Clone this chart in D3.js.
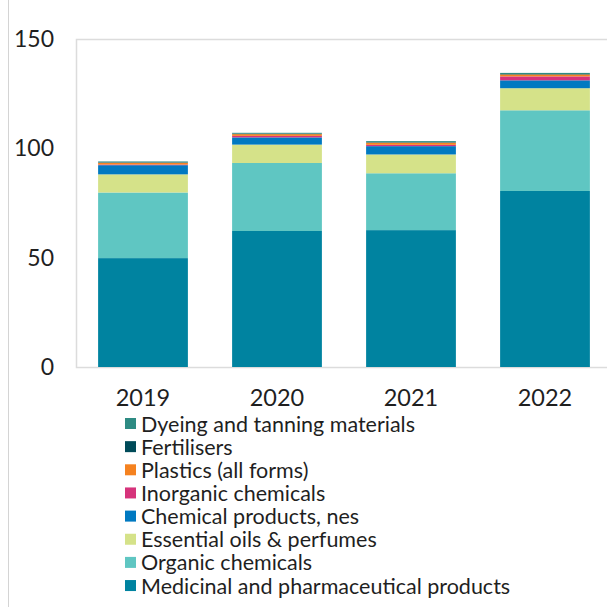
<!DOCTYPE html>
<html>
<head>
<meta http-equiv="Content-Type" content="text/html; charset=utf-8">
<script src="https://cdnjs.cloudflare.com/ajax/libs/d3/7.8.5/d3.min.js"></script>
<style>
  body { margin: 0; background: #fff; }
  text { font-family: Lato, "Open Sans", sans-serif; fill: #1f1f1f; }
</style>
</head>
<body>
<div id="chart"></div>
<script>
// ---------------- data
var years = ["2019", "2020", "2021", "2022"];
var series = ["Medicinal and pharmaceutical products", "Organic chemicals", "Essential oils & perfumes",
  "Chemical products, nes", "Inorganic chemicals", "Plastics (all forms)", "Fertilisers", "Dyeing and tanning materials"];
var colors = ["#0083a0", "#5fc6c2", "#d5e289", "#0079c1", "#d6337b", "#f58220", "#004b59", "#2e8b83"];

var medicinal = [49.8, 62.2, 62.6, 80.5];
var organic   = [30.0, 31.1, 26.0, 36.9];
var essential = [8.3, 8.4, 8.6, 10.1];
var chemNes   = [4.2, 3.3, 3.8, 3.6];
var inorganic = [0.3, 0.7, 0.6, 1.8];
var plastics  = [0.8, 0.8, 1.0, 0.9];
var fertil    = [0.2, 0.2, 0.2, 0.2];
var dyeing    = [0.4, 0.4, 0.5, 0.5];
var yTicks = [0, 50, 100, 150];

var values = [medicinal, organic, essential, chemNes, inorganic, plastics, fertil, dyeing];

// table for the stack
var table = years.map(function(y, i) {
  var row = {year: y};
  series.forEach(function(s, j) { row[s] = values[j][i]; });
  return row;
});

// ---------------- svg
var width = 607, height = 607;
var svg = d3.select("#chart").append("svg")
  .attr("width", width)
  .attr("height", height);

// thin gray line on the far left
svg.append("line")
  .attr("x1", 8.5).attr("x2", 8.5)
  .attr("y1", 0).attr("y2", height)
  .attr("stroke", "#d4d4d4");

var x = d3.scaleBand().domain(years).range([76, 612]).paddingInner(0.33).paddingOuter(0.165);
var y = d3.scaleLinear().domain([0, 150]).range([367, 39]);

// plot frame
svg.append("rect")
  .attr("x", 76.5).attr("y", 39.5)
  .attr("width", 540).attr("height", 367 - 39)
  .attr("fill", "none")
  .attr("stroke", "#dcdcdc")
  .attr("stroke-width", 1.5);

var stack = d3.stack().keys(series)(table);

svg.append("g").selectAll("g")
  .data(stack)
  .enter().append("g")
  .attr("fill", function(d, i) { return colors[i]; })
  .selectAll("rect")
  .data(function(d) { return d; })
  .enter().append("rect")
  .attr("x", function(d) { return x(d.data.year); })
  .attr("width", x.bandwidth())
  .attr("y", function(d) { return y(d[1]); })
  .attr("height", function(d) { return y(d[0]) - y(d[1]); });

// y axis labels
var yAxis = d3.axisLeft(y).tickValues(yTicks).tickSize(0).tickPadding(0);
var gy = svg.append("g").attr("transform", "translate(54,0)").call(yAxis);
gy.select(".domain").remove();
gy.selectAll("text").style("font-size", "23px").style("font-family", "Lato").attr("fill", "#1f1f1f");

// x axis labels
var xAxis = d3.axisBottom(x).tickSize(0).tickPadding(0);
var gx = svg.append("g").attr("transform", "translate(0,389)").call(xAxis);
gx.select(".domain").remove();
gx.selectAll("text").style("font-size", "23.5px").style("font-family", "Lato").attr("fill", "#1f1f1f");

// legend (reversed order)
var legendItems = series.map(function(s, i) { return {name: s, color: colors[i]}; }).reverse();
var legend = svg.append("g").selectAll("g")
  .data(legendItems)
  .enter().append("g")
  .attr("transform", function(d, i) { return "translate(125," + (424 + i * 23.15) + ")"; });

legend.append("rect")
  .attr("x", 0).attr("y", -6)
  .attr("width", 11).attr("height", 11)
  .attr("fill", function(d) { return d.color; });

legend.append("text")
  .attr("x", 16)
  .attr("y", 0)
  .attr("dy", "0.35em")
  .style("font-size", "21.5px")
  .text(function(d) { return d.name; });
</script>
</body>
</html>
